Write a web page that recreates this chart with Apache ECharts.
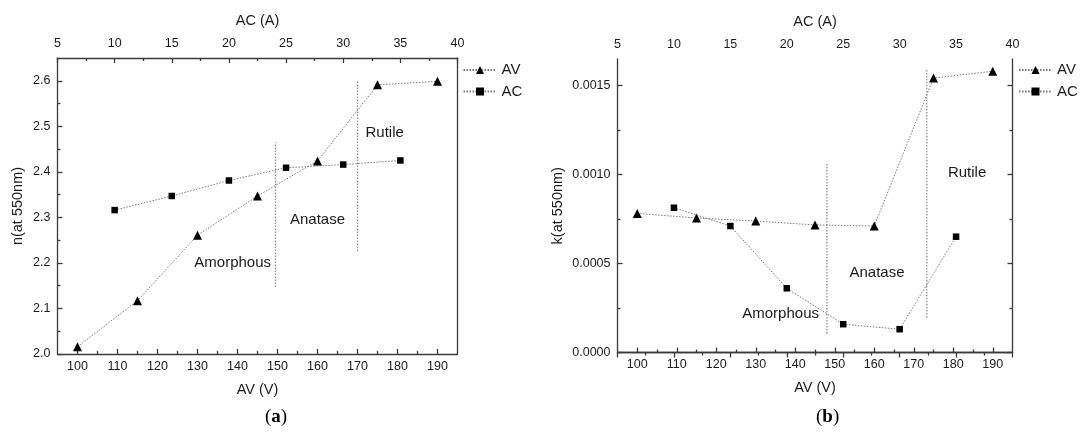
<!DOCTYPE html>
<html>
<head>
<meta charset="utf-8">
<script src="https://cdn.jsdelivr.net/npm/echarts@6/dist/echarts.min.js"></script>
<style>
  html, body { margin: 0; padding: 0; background: #fff; }
  #chart { width: 1080px; height: 433px; }
</style>
</head>
<body>
<div id="chart"></div>
<script>
// Tick values: AV (V) on the bottom axes, AC (A) on the top axes
const avTicks = [100, 110, 120, 130, 140, 150, 160, 170, 180, 190];
const avMinorTicks = [105, 115, 125, 135, 145, 155, 165, 175, 185];
const nTicks = [2.0, 2.1, 2.2, 2.3, 2.4, 2.5, 2.6];
const nMinorTicks = [2.05, 2.15, 2.25, 2.35, 2.45, 2.55];
const kTicks = [0, 0.0005, 0.0010, 0.0015];
const kMinorTicks = [0.00025, 0.00075, 0.00125];

// Deposition settings
const avVoltage = [100, 115, 130, 145, 160, 175, 190];
const acCurrent = [10, 15, 20, 25, 30, 35];

// (a) refractive index n at 550 nm
const nByAV = [2.016, 2.117, 2.261, 2.347, 2.424, 2.591, 2.599];
const nByAC = [2.316, 2.347, 2.381, 2.409, 2.416, 2.425];

// (b) extinction coefficient k at 550 nm
const kByAV = [0.000782, 0.000756, 0.000739, 0.000717, 0.000711, 0.001543, 0.001581];
const kByAC = [0.000814, 0.000711, 0.000361, 0.000159, 0.000131, 0.000651];

// Phase boundaries as [AV, lower value, upper value]
const nPhaseBounds = [[149.5, 2.147, 2.465], [170, 2.226, 2.6]];
const kPhaseBounds = [[148, 0.000107, 0.001063], [173.3, 0.000197, 0.001588]];

// Phase names and where they sit, in [AV, value] coordinates
const phaseNames = ['Amorphous', 'Anatase', 'Rutile'];
const nPhaseAnchors = [[138.8, 2.2], [160, 2.295], [176.8, 2.485]];
const kPhaseAnchors = [[136.3, 0.000219], [160.7, 0.000447], [183.5, 0.001008]];

const FONT = "'Liberation Sans', Arial, sans-serif";
const AXIS_COLOR = '#3a3a3a';
const TEXT_COLOR = '#1a1a1a';
const LINE_COLOR = '#7a7a7a';
const BOUND_COLOR = '#8e8e8e';

const tickStyle = { color: AXIS_COLOR, width: 1.3 };
const labelStyle = { fontSize: 12.5, color: TEXT_COLOR, fontFamily: FONT };
const nameStyle = { fontSize: 14.5, color: TEXT_COLOR, fontFamily: FONT };

const panels = [
  {
    grid: { left: 57.5, top: 58, width: 400, height: 296 },
    yMin: 2.0, yMax: 2.65, yTicks: nTicks, yMinor: nMinorTicks, yDec: 1,
    yName: 'n(at 550nm)', yNameGap: 32, rightTicks: false,
    byAV: nByAV, byAC: nByAC, bounds: nPhaseBounds, anchors: nPhaseAnchors,
    legendLeft: 457.5, caption: 'a', captionX: 265
  },
  {
    grid: { left: 617.5, top: 59, width: 395, height: 293.5 },
    yMin: 0, yMax: 0.00165, yTicks: kTicks, yMinor: kMinorTicks, yDec: 4,
    yName: 'k(at 550nm)', yNameGap: 52, rightTicks: true,
    byAV: kByAV, byAC: kByAC, bounds: kPhaseBounds, anchors: kPhaseAnchors,
    legendLeft: 1013, caption: 'b', captionX: 816
  }
];

const option = {
  animation: false,
  backgroundColor: '#ffffff',
  grid: [], xAxis: [], yAxis: [], series: [], legend: [], graphic: []
};

panels.forEach((p, g) => {
  option.grid.push(p.grid);
  const xBase = option.xAxis.length;
  const yBase = option.yAxis.length;

  // bottom AV axis with major ticks and labels
  option.xAxis.push({
    gridIndex: g, type: 'value', position: 'bottom', min: 95, max: 195,
    axisLine: { show: true, lineStyle: tickStyle },
    axisTick: { show: true, inside: true, length: 5, customValues: avTicks, lineStyle: tickStyle },
    axisLabel: Object.assign({ customValues: avTicks, margin: 6 }, labelStyle),
    splitLine: { show: false },
    name: 'AV (V)', nameLocation: 'middle', nameGap: 28, nameTextStyle: nameStyle
  });
  // bottom AV minor ticks
  option.xAxis.push({
    gridIndex: g, type: 'value', position: 'bottom', min: 95, max: 195,
    axisLine: { show: false }, axisLabel: { show: false }, splitLine: { show: false },
    axisTick: { show: true, inside: true, length: 3, customValues: avMinorTicks, lineStyle: tickStyle }
  });
  // top AC axis
  option.xAxis.push({
    gridIndex: g, type: 'value', position: 'top', min: 5, max: 40, interval: 5,
    axisLine: { show: true, lineStyle: tickStyle },
    axisTick: { show: true, inside: true, length: 5, lineStyle: tickStyle },
    minorTick: { show: true, splitNumber: 2, length: 3, lineStyle: tickStyle },
    axisLabel: Object.assign({ margin: 8 }, labelStyle),
    splitLine: { show: false },
    name: 'AC (A)', nameLocation: 'middle', nameGap: 30, nameTextStyle: nameStyle
  });

  // left value axis
  option.yAxis.push({
    gridIndex: g, type: 'value', position: 'left', min: p.yMin, max: p.yMax,
    axisLine: { show: true, lineStyle: tickStyle },
    axisTick: { show: true, inside: true, length: 5, customValues: p.yTicks, lineStyle: tickStyle },
    axisLabel: Object.assign({ customValues: p.yTicks, margin: 7,
      formatter: v => Number(v).toFixed(p.yDec) }, labelStyle),
    splitLine: { show: false },
    name: p.yName, nameLocation: 'middle', nameGap: p.yNameGap, nameTextStyle: nameStyle
  });
  option.yAxis.push({
    gridIndex: g, type: 'value', position: 'left', min: p.yMin, max: p.yMax,
    axisLine: { show: false }, axisLabel: { show: false }, splitLine: { show: false },
    axisTick: { show: true, inside: true, length: 3, customValues: p.yMinor, lineStyle: tickStyle }
  });
  // right frame edge
  option.yAxis.push({
    gridIndex: g, type: 'value', position: 'right', min: p.yMin, max: p.yMax,
    axisLine: { show: true, lineStyle: tickStyle }, axisLabel: { show: false }, splitLine: { show: false },
    axisTick: p.rightTicks
      ? { show: true, inside: true, length: 5, customValues: p.yTicks, lineStyle: tickStyle }
      : { show: false }
  });
  if (p.rightTicks) {
    option.yAxis.push({
      gridIndex: g, type: 'value', position: 'right', min: p.yMin, max: p.yMax,
      axisLine: { show: false }, axisLabel: { show: false }, splitLine: { show: false },
      axisTick: { show: true, inside: true, length: 3, customValues: p.yMinor, lineStyle: tickStyle }
    });
  }

  const lineStyle = { color: LINE_COLOR, width: 1, type: [1.5, 1.5] };

  // phase boundaries
  p.bounds.forEach(b => {
    option.series.push({
      type: 'line', xAxisIndex: xBase, yAxisIndex: yBase, silent: true, symbol: 'none',
      lineStyle: { color: BOUND_COLOR, width: 1.3, type: [1.5, 1.5] },
      data: [[b[0], b[1]], [b[0], b[2]]], z: 2
    });
  });

  option.series.push({
    name: 'AV', type: 'line', xAxisIndex: xBase, yAxisIndex: yBase,
    symbol: 'triangle', symbolSize: 9, itemStyle: { color: '#000' }, lineStyle,
    data: avVoltage.map((v, i) => [v, p.byAV[i]]), z: 3
  });
  option.series.push({
    name: 'AC', type: 'line', xAxisIndex: xBase + 2, yAxisIndex: yBase,
    symbol: 'rect', symbolSize: 6.5, itemStyle: { color: '#000' }, lineStyle,
    data: acCurrent.map((v, i) => [v, p.byAC[i]]), z: 3
  });

  // phase names
  option.series.push({
    type: 'scatter', xAxisIndex: xBase, yAxisIndex: yBase, silent: true, symbolSize: 0,
    itemStyle: { color: '#000', opacity: 1 },
    label: { show: true, position: 'inside', formatter: '{b}',
      fontSize: 15, color: TEXT_COLOR, fontFamily: FONT, opacity: 1,
      textBorderWidth: 0, textBorderColor: 'transparent' },
    data: phaseNames.map((name, i) => ({ name, value: p.anchors[i] })), z: 4
  });

  option.legend.push({
    data: ['AV', 'AC'], orient: 'vertical', left: p.legendLeft, top: 57.5,
    itemWidth: 33, itemHeight: 10, itemGap: 6.5, selectedMode: false,
    textStyle: { fontSize: 15, color: TEXT_COLOR, fontFamily: FONT }
  });

  option.graphic.push({
    type: 'text', left: p.captionX, top: 408,
    style: {
      text: '({b|' + p.caption + '})',
      font: "19px 'Liberation Serif', 'Times New Roman', serif",
      fill: '#000', align: 'center',
      rich: { b: { fontWeight: 'bold', fontSize: 19, fontFamily: "'Liberation Serif', 'Times New Roman', serif" } }
    }
  });
});

const chart = echarts.init(document.getElementById('chart'), null, { renderer: 'canvas' });
chart.setOption(option);
</script>
</body>
</html>
